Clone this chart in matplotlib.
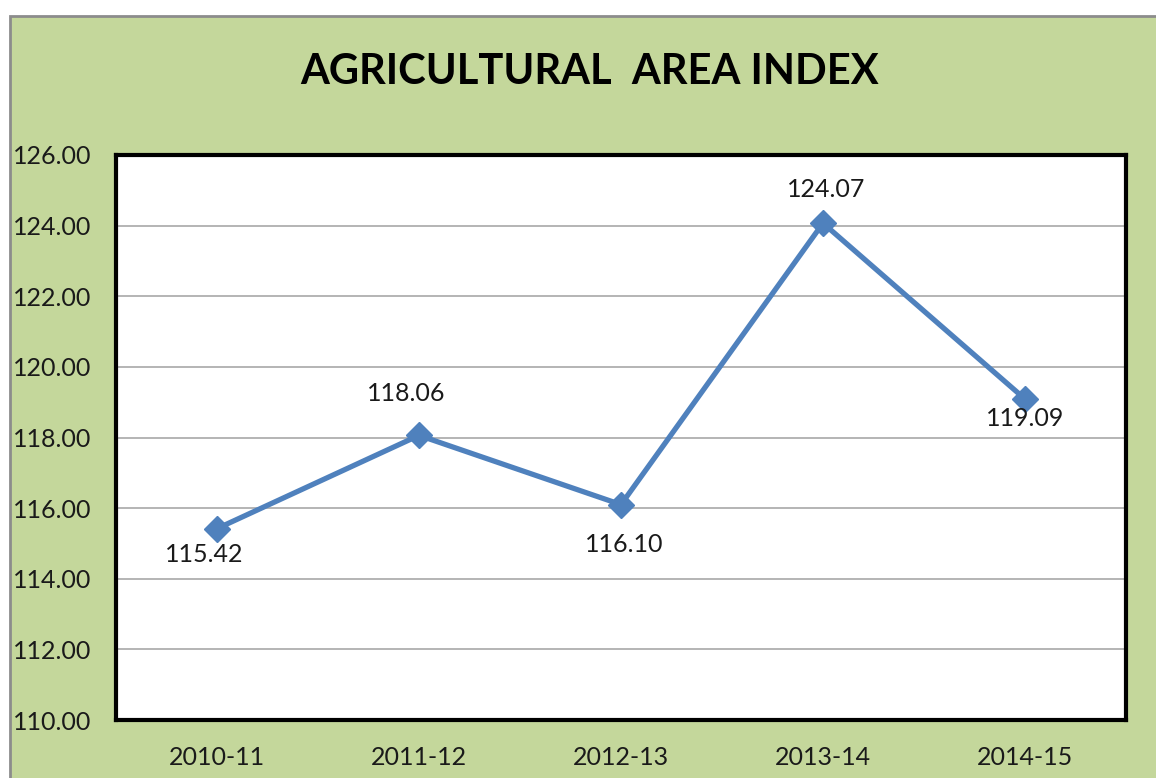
import matplotlib
matplotlib.use("Agg")
import matplotlib.pyplot as plt
from matplotlib.patches import Rectangle

# data
years = ["2010-11", "2011-12", "2012-13", "2013-14", "2014-15"]
index_values = [115.42, 118.06, 116.10, 124.07, 119.09]
y_ticks = [110, 112, 114, 116, 118, 120, 122, 124, 126]

# label offsets in points (dx, dy) for each data label
label_offsets = [(-9, -19), (-9, 30), (2, -29), (2, 24), (0, -14)]

BG_GREEN = "#C4D79B"
LINE_BLUE = "#4F81BD"

plt.rcParams["font.family"] = ["Lato", "DejaVu Sans"]

fig = plt.figure(figsize=(11.56, 7.78), dpi=100, facecolor="white")

# green chart area with a grey border, inset from top-left
W, H = 1156, 778
bg = Rectangle((10 / W, -0.01), 1.0, (H - 16) / H + 0.01,
               transform=fig.transFigure, facecolor=BG_GREEN,
               edgecolor="#8C8C8C", linewidth=2, zorder=-10)
fig.patches.append(bg)

ax = fig.add_axes([116 / W, 1 - 720 / H, (1126 - 116) / W, (720 - 155) / H])
ax.set_zorder(1)
ax.set_facecolor("white")

x = list(range(len(years)))
ax.plot(x, index_values, color=LINE_BLUE, linewidth=3.8, marker="D",
        markersize=13, markerfacecolor=LINE_BLUE, markeredgecolor=LINE_BLUE,
        zorder=3)

for xi, v, (dx, dy) in zip(x, index_values, label_offsets):
    ax.annotate(f"{v:.2f}", (xi, v), xytext=(dx, dy), textcoords="offset points",
                ha="center", va="center", fontsize=18, color="#1A1A1A", zorder=4)

ax.set_xlim(-0.5, len(years) - 0.5)
ax.set_ylim(110, 126)
ax.set_xticks(x)
ax.set_xticklabels(years)
ax.set_yticks(y_ticks)
ax.set_yticklabels([f"{t:.2f}" for t in y_ticks])
ax.yaxis.grid(True, color="#A0A0A0", linewidth=1.1)
ax.set_axisbelow(True)

ax.tick_params(axis="y", length=0, pad=18, labelsize=18, labelcolor="#1A1A1A")
ax.tick_params(axis="x", length=0, pad=19, labelsize=18, labelcolor="#1A1A1A")

for spine in ax.spines.values():
    spine.set_color("black")
    spine.set_linewidth(3)

fig.text(590 / W, 1 - 72 / H, "AGRICULTURAL  AREA INDEX", ha="center",
         va="center", fontsize=30, fontweight="bold", color="black")

fig.savefig("out.png", dpi=100, facecolor=fig.get_facecolor())
